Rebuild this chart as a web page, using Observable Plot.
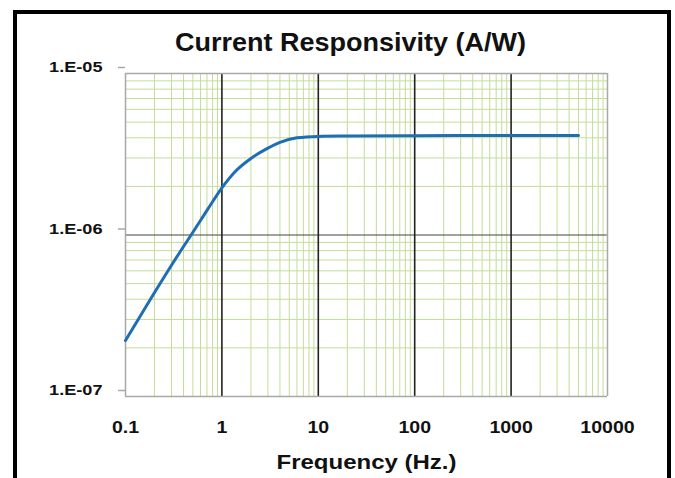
<!DOCTYPE html>
<html>
<head>
<meta charset="utf-8">
<script src="https://cdn.jsdelivr.net/npm/d3@7"></script>
<script src="https://cdn.jsdelivr.net/npm/@observablehq/plot@0.6"></script>
<style>
  html, body { margin: 0; padding: 0; background: #fff; }
  #wrap { position: relative; width: 675px; height: 478px; overflow: hidden; font-family: "Liberation Sans", Arial, sans-serif; }
  #frame { position: absolute; left: 13px; top: 10px; width: 650px; height: 500px; border: 4px solid #000; box-sizing: content-box; }
  #title { position: absolute; left: 175px; top: 27px; font-weight: bold; font-size: 25px; line-height: 30px; white-space: nowrap; transform: scaleX(1.08); transform-origin: left center; color: #111; }
  #chart { position: absolute; left: 0; top: 0; }
</style>
</head>
<body>
<div id="wrap">
  <div id="frame"></div>
  <div id="chart"></div>
  <div id="title">Current Responsivity (A/W)</div>
</div>
<script>
// Data
const frequency = [0.1, 0.2, 0.3, 0.5, 0.7, 1, 1.4, 2, 3, 4, 6, 10, 20, 100, 1000, 5000];
const responsivity = [2.22e-7, 4.4e-7, 6.5e-7, 1.04e-6, 1.42e-6, 1.96e-6, 2.5e-6, 2.98e-6, 3.45e-6, 3.75e-6, 4.0e-6, 4.08e-6, 4.1e-6, 4.12e-6, 4.13e-6, 4.13e-6];

const xTicks = [0.1, 1, 10, 100, 1000, 10000];
const xTickLabels = ["0.1", "1", "10", "100", "1000", "10000"];
const yTicks = [1e-7, 1e-6, 1e-5];
const yTickLabels = ["1.E-07", "1.E-06", "1.E-05"];
const xLabel = "Frequency (Hz.)";

const xMajorInner = [1, 10, 100, 1000];
const xEdges = [0.1, 10000];
const yMajorInner = [1e-6];
const yEdges = [1e-7, 1e-5];
const multipliers = [2, 3, 4, 5, 6, 7, 8, 9];
const xDecades = [0.1, 1, 10, 100, 1000];
const yDecades = [1e-7, 1e-6];

const xMinor = xDecades.flatMap(d => multipliers.map(m => d * m));
const yMinor = yDecades.flatMap(d => multipliers.map(m => d * m));
const data = frequency.map((f, i) => ({f, r: responsivity[i]}));

const green = "#c3dd99";

const plot = Plot.plot({
  width: 675,
  height: 478,
  marginLeft: 125,
  marginRight: 68,
  marginTop: 73,
  marginBottom: 82,
  style: {background: "transparent", fontFamily: "'Liberation Sans', Arial, sans-serif", color: "#111"},
  x: {type: "log", domain: [0.1, 10000], range: [125, 607]},
  y: {type: "log", domain: [1e-7, 1e-5], range: [396, 73]},
  marks: [
    Plot.ruleX(xMinor, {stroke: green, strokeWidth: 1}),
    Plot.ruleY(yMinor, {stroke: green, strokeWidth: 1}),
    Plot.ruleY(yMajorInner, {stroke: "#444", strokeWidth: 1.2}),
    Plot.ruleX(xMajorInner, {stroke: "#222", strokeWidth: 1.6}),
    Plot.ruleY(yEdges, {stroke: "#a8a8a8", strokeWidth: 1.5}),
    Plot.ruleX(xEdges, {stroke: "#a8a8a8", strokeWidth: 1.5}),
    Plot.axisY({
      ticks: yTicks,
      tickFormat: d => yTickLabels[yTicks.indexOf(d)],
      tickSize: 7,
      tickPadding: 16,
      stroke: "#a8a8a8",
      strokeWidth: 1.5,
      fontSize: 14.5,
      fontWeight: "bold",
      dy: -6,
      label: null
    }),
    Plot.axisX({
      ticks: xTicks,
      tickFormat: d => xTickLabels[xTicks.indexOf(d)],
      tickSize: 0,
      tickPadding: 25,
      fontSize: 16,
      fontWeight: "bold",
      label: xLabel,
      labelAnchor: "center",
      labelArrow: "none",
      labelOffset: 72
    }),
    Plot.line(data, {x: "f", y: "r", stroke: "#1f6db4", strokeWidth: 3, curve: "monotone-x"})
  ]
});

document.getElementById("chart").appendChild(plot);

// widen glyphs horizontally like the reference lettering
const svg = plot.tagName.toLowerCase() === "svg" ? plot : plot.querySelector("svg");
svg.querySelectorAll("g[aria-label='y-axis tick label'] text").forEach(t => {
  t.setAttribute("textLength", t.getComputedTextLength() * 1.25);
  t.setAttribute("lengthAdjust", "spacingAndGlyphs");
});
svg.querySelectorAll("g[aria-label='x-axis tick label'] text").forEach(t => {
  t.setAttribute("textLength", t.getComputedTextLength() * 1.22);
  t.setAttribute("lengthAdjust", "spacingAndGlyphs");
});
svg.querySelectorAll("g[aria-label='x-axis label'] text").forEach(t => {
  t.setAttribute("font-size", 20);
  t.setAttribute("font-weight", "bold");
  t.setAttribute("textLength", t.getComputedTextLength() * 1.2);
  t.setAttribute("lengthAdjust", "spacingAndGlyphs");
});
</script>
</body>
</html>
